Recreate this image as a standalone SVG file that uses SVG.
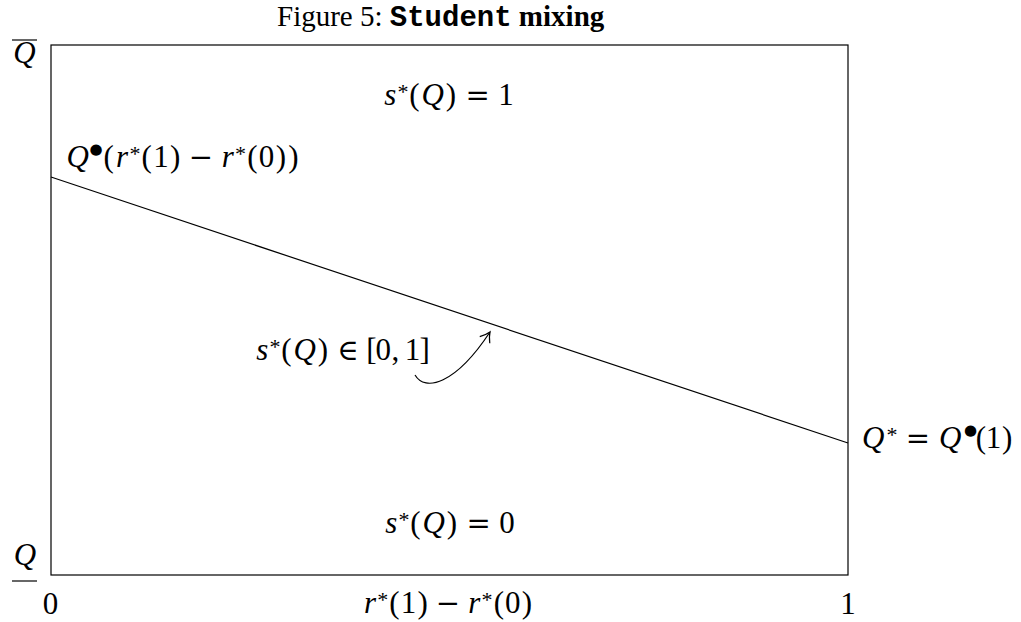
<svg xmlns="http://www.w3.org/2000/svg" width="1021" height="622" viewBox="0 0 1021 622">
<style>
.m{font-family:"Liberation Serif","DejaVu Serif",serif;font-size:31px;fill:#000}
.i{font-style:italic}
.s{font-size:22px}
.o{font-family:"DejaVu Serif","Liberation Serif",serif;font-size:29px}
.b{font-family:"DejaVu Sans",sans-serif;font-size:15px}
.t{font-family:"Liberation Serif",serif;font-size:29px;fill:#000}
.tt{font-family:"Liberation Mono",monospace;font-weight:bold}
.ln{fill:none;stroke:#000;stroke-width:1.2}
</style>
<defs>
<marker id="ah" markerWidth="14" markerHeight="14" refX="10" refY="6" orient="auto" markerUnits="userSpaceOnUse" overflow="visible">
<path d="M0.5,0 Q6,4.5 10,6 Q6,7.5 0.5,12" fill="none" stroke="#000" stroke-width="1.2"/>
</marker>
</defs>
<rect width="1021" height="622" fill="#fff"/>
<text class="t" x="277" y="26">Figure 5: <tspan class="tt">Student</tspan><tspan font-weight="bold"> mixing</tspan></text>
<g id="frame"><rect class="ln" x="51" y="45" width="797" height="530"/></g>
<g id="connectors">
<line class="ln" x1="51" y1="177" x2="848" y2="443"/>
<path class="ln" d="M415,375 C425,392 455,385 490,332" marker-end="url(#ah)"/>
</g>
<g id="axis-labels">
<text class="m i" x="24.5" y="63" text-anchor="middle">Q</text>
<line class="ln" x1="12" y1="40" x2="37" y2="40"/>
<text class="m i" x="25" y="565" text-anchor="middle">Q</text>
<line class="ln" x1="12" y1="581" x2="37" y2="581"/>
<text class="m" x="50.5" y="614" text-anchor="middle">0</text>
<text class="m" x="848" y="614" text-anchor="middle">1</text>
<text class="m" text-anchor="middle"><tspan class="i" x="370.1" y="613">r</tspan><tspan class="s" x="382.8" y="607">*</tspan><tspan x="394.5 408.5 422.6" y="613">(1)</tspan><tspan class="o" x="448">−</tspan><tspan class="i" x="474.4">r</tspan><tspan class="s" x="487.1" y="607">*</tspan><tspan x="498.8 512.8 526.9" y="613">(0)</tspan></text>
</g>
<g id="region-top">
<text class="m" text-anchor="middle"><tspan class="i" x="390.3" y="105">s</tspan><tspan class="s" x="403" y="99">*</tspan><tspan x="414.4" y="105">(</tspan><tspan class="i" x="432.7">Q</tspan><tspan x="451">)</tspan><tspan class="o" x="477.7">=</tspan><tspan x="506.1">1</tspan></text>
</g>
<g id="region-bottom">
<text class="m" text-anchor="middle"><tspan class="i" x="391.3" y="533">s</tspan><tspan class="s" x="404" y="527">*</tspan><tspan x="415.4" y="533">(</tspan><tspan class="i" x="433.7">Q</tspan><tspan x="452">)</tspan><tspan class="o" x="478.7">=</tspan><tspan x="507.1">0</tspan></text>
</g>
<g id="region-mixed">
<text class="m" text-anchor="middle"><tspan class="i" x="262.3" y="360">s</tspan><tspan class="s" x="275" y="354">*</tspan><tspan x="286.4" y="360">(</tspan><tspan class="i" x="304.7">Q</tspan><tspan x="323">)</tspan><tspan class="o" x="348">∈</tspan><tspan x="371.3 383.3 395.4 412.6 424.7">[0,1]</tspan></text>
</g>
<g id="label-left">
<text class="m" text-anchor="middle"><tspan class="i" x="77.7" y="167">Q</tspan><tspan class="b" x="96" y="154">●</tspan><tspan x="108.7" y="167">(</tspan><tspan class="i" x="122.1">r</tspan><tspan class="s" x="134.9" y="161">*</tspan><tspan x="146.7 161 175.2" y="167">(1)</tspan><tspan class="o" x="201">−</tspan><tspan class="i" x="227.7">r</tspan><tspan class="s" x="240.6" y="161">*</tspan><tspan x="252.4 266.6 280.8 293.3" y="167">(0))</tspan></text>
</g>
<g id="label-right">
<text class="m" text-anchor="middle"><tspan class="i" x="873.1" y="448">Q</tspan><tspan class="s" x="892.1" y="442">*</tspan><tspan class="o" x="917.8" y="448">=</tspan><tspan class="m i" x="950.3">Q</tspan><tspan class="b" x="970.5" y="435">●</tspan><tspan x="981 993.6 1007.2" y="448">(1)</tspan></text>
</g>
</svg>
